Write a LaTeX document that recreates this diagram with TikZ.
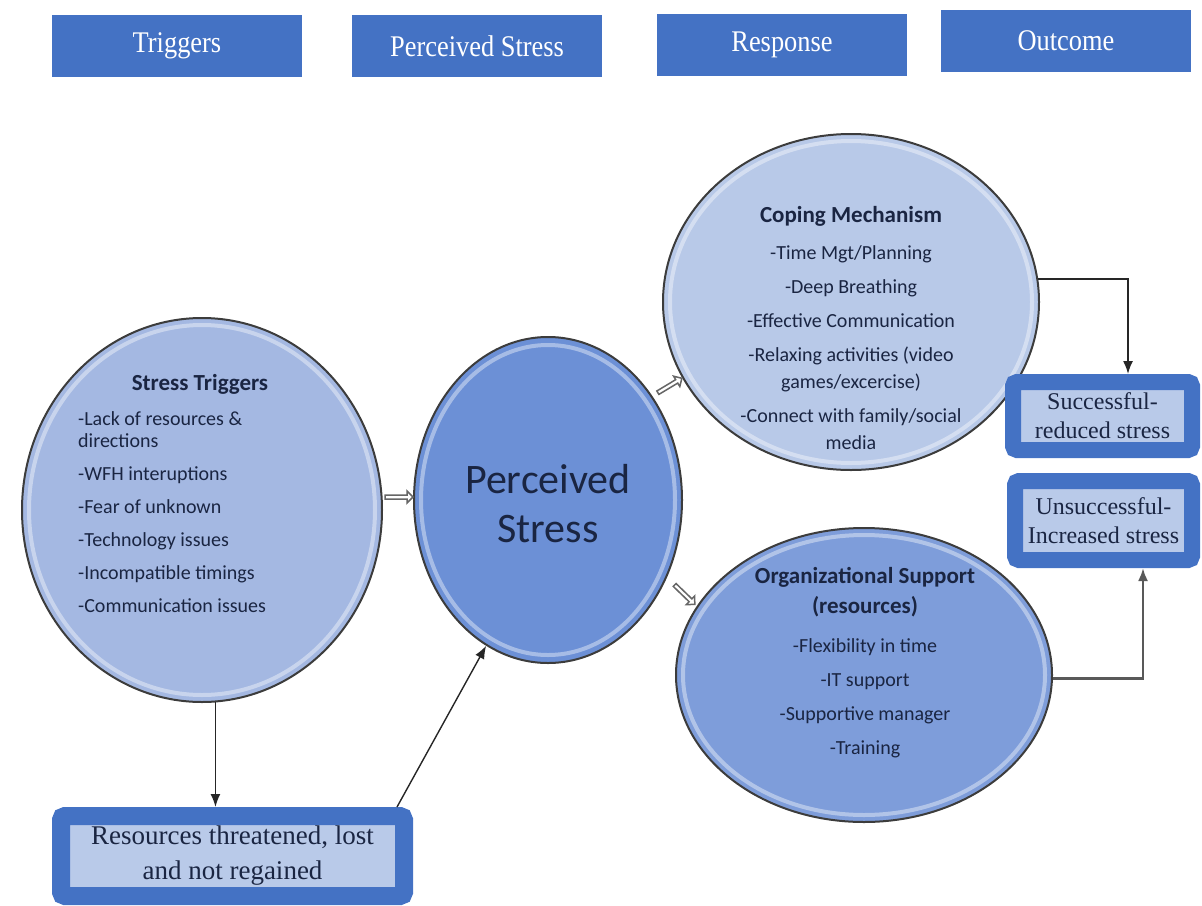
\documentclass[tikz,border=0pt]{standalone}
\usepackage{fontspec}
\setmainfont{Liberation Serif}
\newfontfamily\calfont{Carlito}
\usetikzlibrary{shapes.geometric,shapes.arrows,arrows.meta,calc}
\definecolor{hdr}{HTML}{4472C4}
\definecolor{inbox}{HTML}{B9CAE9}
\definecolor{ink}{HTML}{1A2542}
\definecolor{stc}{HTML}{A4B8E2}
\definecolor{psc}{HTML}{6C90D6}
\definecolor{cpc}{HTML}{B8C9E8}
\definecolor{orc}{HTML}{7E9DDA}
\definecolor{rim}{HTML}{3C3C3C}
\begin{document}
\begin{tikzpicture}[x=1pt,y=-1pt,
 hdrbox/.style={fill=hdr, minimum width=250pt, minimum height=62pt, inner sep=0pt, text=white, font=\fontsize{30}{30}\selectfont},
 oval/.style={ellipse, draw=rim, line width=2pt, inner sep=0pt},
 gloss/.style={white, opacity=0.4, line width=4pt},
 outbox/.style={draw=hdr, line width=16pt, rounded corners=4pt, fill=inbox, inner sep=0pt, text=ink, align=center, font=\fontsize{24}{29}\selectfont},
 conn/.style={-{Latex[length=13pt,width=10pt]}, line width=1.6pt, draw=black!85},
 blockarrow/.style={single arrow, draw=black!60, fill=white, line width=1.5pt, minimum height=28pt, minimum width=12pt, single arrow head extend=1.5pt, inner sep=0pt},
 body/.style={text=ink, inner sep=0pt}
]
\useasboundingbox (0,0) rectangle (1202,905);

% header boxes
\node[hdrbox] (h1) at (177,46) {\scalebox{0.88}[1]{Triggers}};
\node[hdrbox] (h2) at (477,46) {\scalebox{0.88}[1]{Perceived Stress}};
\node[hdrbox] (h3) at (782,45) {\scalebox{0.88}[1]{Response}};
\node[hdrbox] (h4) at (1066,41) {\scalebox{0.88}[1]{Outcome}};

% ellipses
\node[oval, fill=stc, minimum width=360pt, minimum height=384pt] (st) at (202,510) {};
\draw[gloss] (st.center) ellipse [x radius=173pt, y radius=185pt];
\node[oval, fill=psc, minimum width=268pt, minimum height=326pt] (ps) at (548,500) {};
\draw[gloss] (ps.center) ellipse [x radius=127pt, y radius=155pt];
\node[oval, fill=cpc, minimum width=376pt, minimum height=336pt] (cop) at (851,302) {};
\draw[gloss] (cop.center) ellipse [x radius=181pt, y radius=161pt];
\node[oval, fill=orc, minimum width=376pt, minimum height=294pt] (org) at (864,675) {};
\draw[gloss] (org.center) ellipse [x radius=181pt, y radius=140pt];

% ellipse texts
\node[body, anchor=base, font=\calfont\bfseries\fontsize{23}{26}\selectfont] (stt) at (200,390) {Stress Triggers};
\node[body, anchor=base west, font=\calfont\fontsize{20}{22}\selectfont] (stl) at (78,425)
 {\begin{tabular}[t]{@{}l@{}}-Lack of resources \&\\ directions\\[11pt]-WFH interuptions\\[11pt]-Fear of unknown\\[11pt]-Technology issues\\[11pt]-Incompatible timings\\[11pt]-Communication issues\end{tabular}};

\node[body, anchor=base, font=\calfont\fontsize{42}{49}\selectfont] (pst) at (548,493)
 {\begin{tabular}[t]{@{}c@{}}Perceived\\ Stress\end{tabular}};

\node[body, anchor=base, font=\calfont\bfseries\fontsize{23}{26}\selectfont] (cpt) at (851,222) {Coping Mechanism};
\node[body, anchor=base, font=\calfont\fontsize{20}{27}\selectfont] (cpl) at (851,259)
 {\begin{tabular}[t]{@{}c@{}}-Time Mgt/Planning\\[7pt]-Deep Breathing\\[7pt]-Effective Communication\\[7pt]-Relaxing activities (video\\ games/excercise)\\[7pt]-Connect with family/social\\ media\end{tabular}};

\node[body, anchor=base, font=\calfont\bfseries\fontsize{23}{30}\selectfont] (ort) at (865,583)
 {\begin{tabular}[t]{@{}c@{}}Organizational Support\\ (resources)\end{tabular}};
\node[body, anchor=base, font=\calfont\fontsize{20}{34}\selectfont] (orl) at (865,652)
 {\begin{tabular}[t]{@{}c@{}}-Flexibility in time\\ -IT support\\ -Supportive manager\\ -Training\end{tabular}};

% outcome and resource boxes
\node[outbox, minimum width=179pt, minimum height=68pt] (succ) at (1102.5,416) {Successful-\\ reduced stress};
\node[outbox, minimum width=177pt, minimum height=79pt] (unsucc) at (1103.5,520.5) {Unsuccessful-\\ Increased stress};
\node[outbox, line width=18pt, minimum width=343pt, minimum height=80pt, font=\fontsize{27}{35}\selectfont] (res) at (232.5,856) {Resources threatened, lost\\ and not regained};

% small block arrows
\node[blockarrow] (a1) at (398,497) {};
\node[blockarrow, rotate=31] (a2) at (669,386) {};
\node[blockarrow, rotate=-44] (a3) at (684,594) {};

% connectors
\draw[conn] (cop.7) -| ([xshift=25.5pt]succ.north);
\draw[conn, draw=black!65, line width=2.4pt] (org.-1) -| ([xshift=39.5pt]unsucc.south);
\draw[conn] (st.-86) -- (st.-86 |- res.north);
\draw[conn, line width=1.4pt] ([xshift=164.5pt]res.north) -- (ps.-113);
\end{tikzpicture}
\end{document}
